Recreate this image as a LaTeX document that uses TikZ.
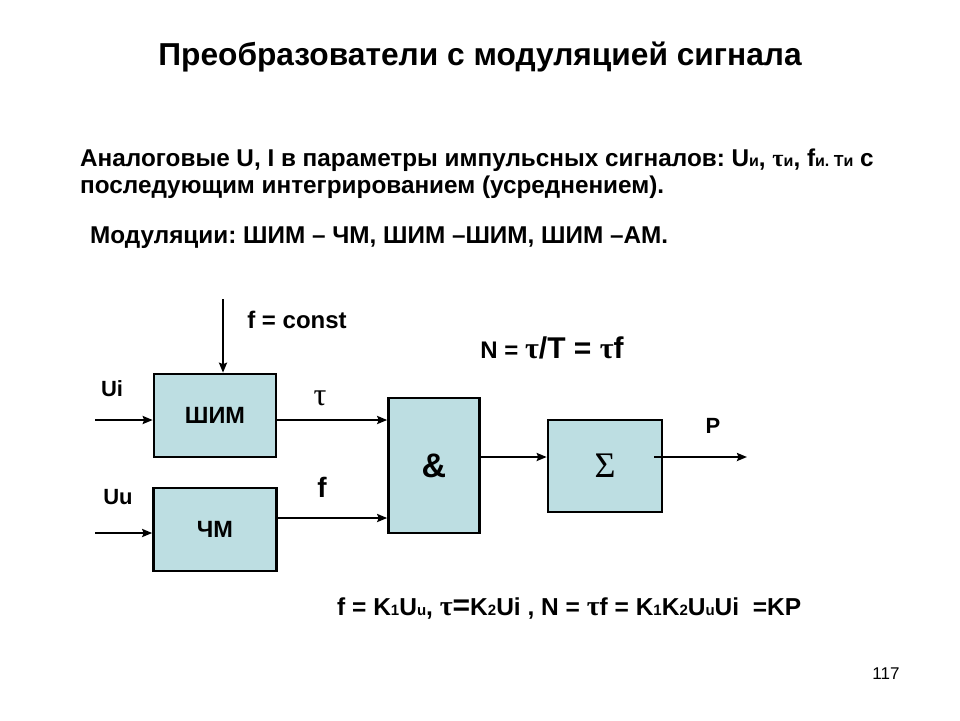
\documentclass[tikz,border=0pt]{standalone}
\usepackage{fontspec}
\setmainfont{Liberation Sans}
\newfontfamily\symbfont{Liberation Serif}
\usetikzlibrary{
  arrows.meta,
  positioning
}
\definecolor{boxfill}{HTML}{BDDEE2}
\frenchspacing
\tikzset{
  every node/.style={inner sep=0pt, align=center},
  block/.style={draw, line width=2.6pt, fill=boxfill, font=\bfseries\fontsize{23.5}{26}\selectfont},
  sig/.style={line width=2.3pt, -{Stealth[length=10pt, width=8pt, inset=1.5pt]}},
  lbl/.style={font=\bfseries\fontsize{22}{24}\selectfont},
  body/.style={anchor=west, font=\bfseries\fontsize{24.3}{27}\selectfont},
}
\newcommand{\tauglyph}{{\symbfont τ}}
\newcommand{\sml}[1]{{\fontsize{16}{18}\selectfont #1}}
\newcommand{\sub}[1]{{\fontsize{15}{17}\selectfont #1}}

\begin{document}
\begin{tikzpicture}[x=1pt, y=-1pt]
      \useasboundingbox (0,0) rectangle (960,720);

      \node (title) at (480,57) {\bfseries\fontsize{31.7}{36}\selectfont
        Преобразователи с модуляцией сигнала};
      \node (line1) [body] at (80,160) {Аналоговые U, I в параметры импульсных
        сигналов: U\sml{и}, \tauglyph\sml{и}, f\sml{и. Tи} с};
      \node (line2) [body] at (80,187) {последующим интегрированием (усреднением).};
      \node (modes) [body] at (90,238) {Модуляции: ШИМ – ЧМ, ШИМ –ШИМ, ШИМ –АМ.};

      % blocks
      \node (shim) [block, minimum width=122pt, minimum height=83pt] at (215,415.5) {ШИМ};
      \node (chm) [block, minimum width=123pt, minimum height=83pt] at (215,529.5) {ЧМ};
      \node (and) [block, minimum width=91pt, minimum height=135pt,
        font=\bfseries\fontsize{34}{36}\selectfont] at (434,465.5) {\&};
      \node (sum) [block, minimum width=114pt, minimum height=92pt,
        font=\fontsize{36}{38}\selectfont] at (605,466) {\symbfont Σ};

      % free ends
      \coordinate (fc in) at (223,299);
      \coordinate (ui in) at (95,420);
      \coordinate (uu in) at (95,533);
      \coordinate (p out) at (747,457);

      % labels
      \node (fc) [lbl, font=\bfseries\fontsize{24}{26}\selectfont] at (297,320) {f = const};
      \node (ui) [lbl] at (112,389) {Ui};
      \node (uu) [lbl] at (118,497) {Uu};
      \node (tau) at (320,398) {\fontsize{32}{34}\selectfont\tauglyph};
      \node (f) [font=\bfseries\fontsize{28}{30}\selectfont] at (322,487) {f};
      \node (p) [lbl] at (713,426) {P};
      \node (nform) at (552,348) {\bfseries\fontsize{24}{26}\selectfont N =
        {\fontsize{30}{32}\selectfont\tauglyph/T = \tauglyph f}};
      \node (kform) [anchor=west] at (337,609) {\bfseries\fontsize{24.5}{26}\selectfont
        f = K\sub{1}U\sub{u}, {\fontsize{28}{28}\selectfont\tauglyph}{\fontsize{30}{30}\selectfont=}K\sub{2}Ui ,
        N = {\fontsize{28}{28}\selectfont\tauglyph}f =
        K\sub{1}K\sub{2}U\sub{u}Ui \ =KP};
      \node (page) at (886,674) {\fontsize{17}{20}\selectfont 117};

      % connectors
      \draw[sig] (fc in) -- ([xshift=8pt]shim.north);
      \draw[sig] (ui in) -- (ui in -| shim.west);
      \draw[sig] (uu in) -- (uu in -| chm.west);
      \draw[sig] (shim.east |- ui in) -- (and.west |- ui in);
      \draw[sig] ([yshift=11.5pt]chm.east) -- ([yshift=11.5pt]chm.east -| and.west);
      \draw[sig] ([yshift=8.5pt]and.east) -- ([yshift=8.5pt]and.east -| sum.west);
      \draw[sig] ([xshift=-9pt]sum.east |- p out) -- (p out);
    \end{tikzpicture}
\end{document}
